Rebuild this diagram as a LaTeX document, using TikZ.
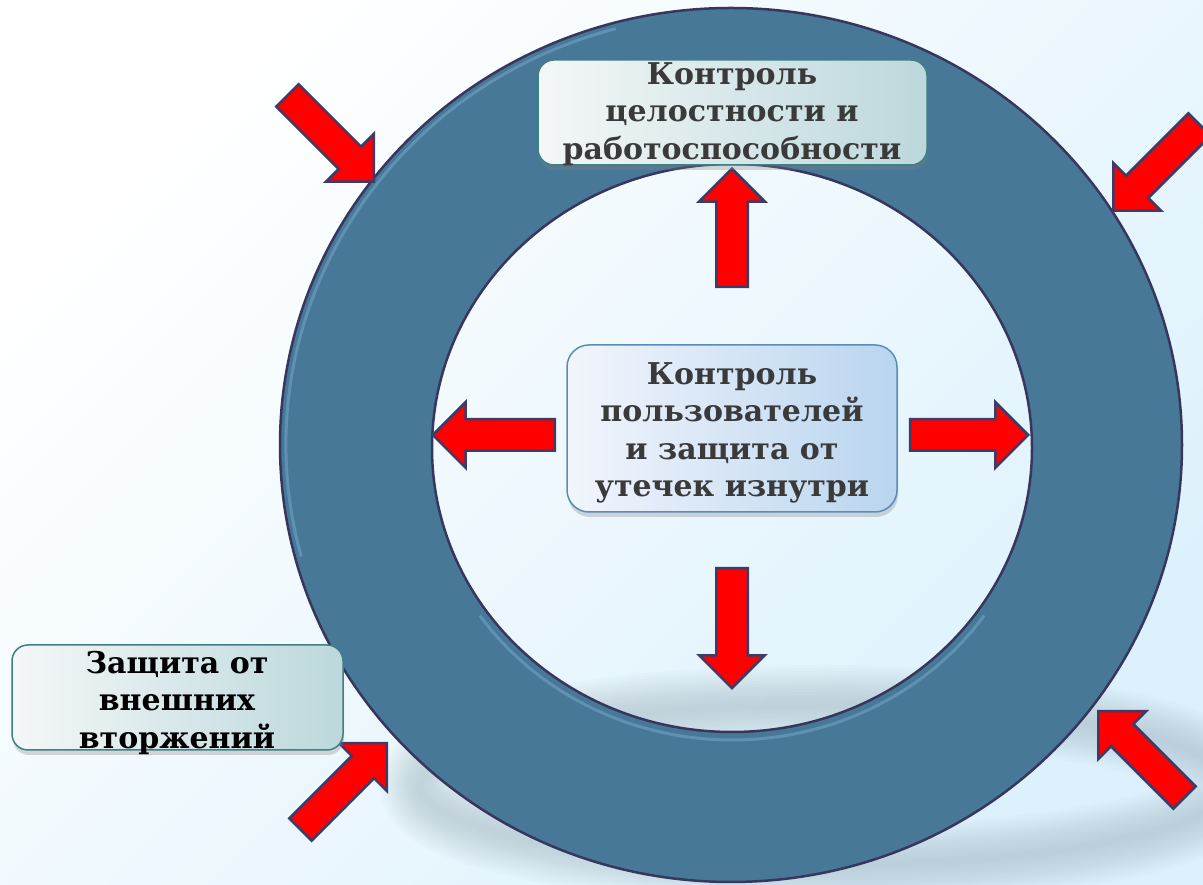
\documentclass[tikz,border=0pt]{standalone}
\usepackage{fontspec}
\setmainfont{DejaVu Serif}
\usetikzlibrary{positioning,shapes.arrows,shadows}

\definecolor{bgblue}{HTML}{DCF1FC}
\definecolor{ringblue}{HTML}{487898}
\definecolor{ringedge}{HTML}{37375E}
\definecolor{ringlight}{HTML}{7DB0D2}
\definecolor{arrowedge}{HTML}{3C3C6A}
\definecolor{boxedge}{HTML}{3F8082}
\definecolor{boxleft}{HTML}{F4F7F7}
\definecolor{boxright}{HTML}{BCD8DC}
\definecolor{midedge}{HTML}{5A8CBA}
\definecolor{midleft}{HTML}{F2F5FC}
\definecolor{midright}{HTML}{B9D5EF}
\definecolor{textgray}{HTML}{3A3A3A}
\definecolor{shadowgray}{HTML}{8FA4AE}

\tikzset{
	redarrow/.style={single arrow, fill=red, draw=arrowedge, line width=2.5pt,
		inner xsep=0pt, inner ysep=14.5pt, single arrow head extend=17pt,
		single arrow head indent=0pt, minimum height=#1, anchor=tip},
	redarrow/.default=122pt,
	greenbox/.style={rectangle, rounded corners=16pt, draw=boxedge, line width=1.5pt,
		left color=boxleft, right color=boxright, inner sep=0pt,
		drop shadow={opacity=0.3, shadow xshift=1pt, shadow yshift=-5pt}},
	bluebox/.style={greenbox, rounded corners=22pt, draw=midedge,
		left color=midleft, right color=midright},
	boxtext/.style={font=\fontsize{30}{37.5}\selectfont\bfseries, align=center,
		inner sep=0pt, anchor=north, text=textgray}
}

\begin{document}
\begin{tikzpicture}[x=1pt, y=1pt]
	\useasboundingbox (0,0) rectangle (1203,885);
	\shade[top color=white, bottom color=bgblue, shading angle=45] (0,0) rectangle (1203,885);
	\foreach \w in {80,74,...,8}
		\draw[shadowgray, line width=\w pt, opacity=0.035] (825,100) ellipse [x radius=405, y radius=80];
	\fill[ringblue, even odd rule] (731,440) ellipse [x radius=451, y radius=437]
		(732,437) ellipse [x radius=300, y radius=284];
	\draw[ringlight, line width=3pt, opacity=0.45] (731,440) ++(105:445 and 431)
		arc [start angle=105, end angle=195, x radius=445, y radius=431];
	\draw[ringlight, line width=3pt, opacity=0.45] (732,437) ++(215:308 and 292)
		arc [start angle=215, end angle=325, x radius=308, y radius=292];
	\draw[ringedge, line width=2.5pt] (731,440) ellipse [x radius=451, y radius=437]
		(732,437) ellipse [x radius=300, y radius=284];

	\node[redarrow=118pt, rotate=90] (up) at (732,718) {};
	\node[redarrow=122pt, rotate=180] (left) at (431,450) {};
	\node[redarrow=118pt] (right) at (1030,450) {};
	\node[redarrow=120pt, rotate=-90] (down) at (732,195) {};

	\node[redarrow, rotate=-45, single arrow head extend=18pt] (nw) at (375,702) {};
	\node[redarrow, rotate=-135, single arrow head extend=18pt] (ne) at (1112,673) {};
	\node[redarrow, rotate=135, single arrow head extend=18pt] (se) at (1097,175) {};
	\node[redarrow, rotate=45, single arrow head extend=18pt] (sw) at (388,143) {};

	\node[greenbox, minimum width=389pt, minimum height=105pt] (top) at (732.5,772.5) {};
	\node[boxtext] (toptext) at (732,823) {Контроль\\целостности и\\работоспособности};

	\node[bluebox, minimum width=330pt, minimum height=167pt] (mid) at (732,456.5) {};
	\node[boxtext] (midtext) at (732,523) {Контроль\\пользователей\\и защита от\\утечек изнутри};

	\node[greenbox, minimum width=331pt, minimum height=105pt] (outer) at (177.5,187.5) {};
	\node[boxtext, text=black] (outertext) at (177,234) {Защита от\\внешних\\вторжений};
\end{tikzpicture}
\end{document}
